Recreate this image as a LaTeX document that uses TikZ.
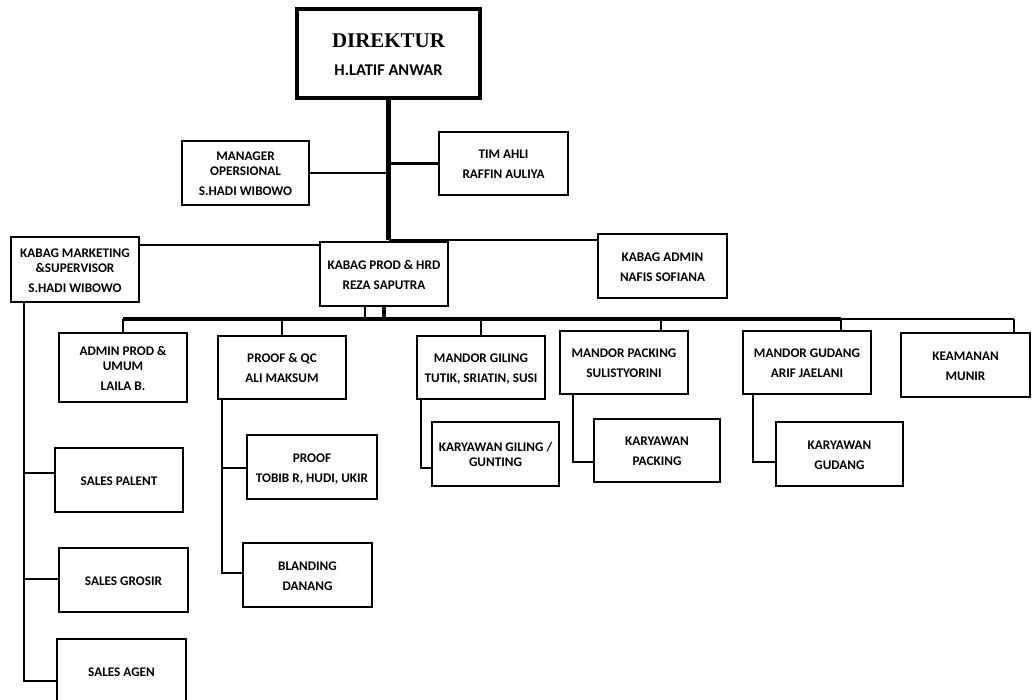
\documentclass[tikz,border=0pt]{standalone}
\usepackage{fontspec}
\setmainfont{Carlito}
\newfontfamily\dirfont{Liberation Serif}
\usetikzlibrary{calc}
\newcommand\lines[1]{\raisebox{-1.6pt}[\height][\depth]{\begin{tabular}{@{}c@{}}#1\end{tabular}}}
% \bx{name}{left}{top}{right}{bottom}{options}{text}  (pixel units)
\newcommand\bx[7]{\node[box, #6, minimum width={(#4-#2)*0.75pt}, minimum height={(#5-#3)*0.75pt}]
  (#1) at ({(#2+#4)/2},{(#3+#5)/2}) {\lines{#7}};}
\begin{document}
\begin{tikzpicture}[x=0.75pt,y=-0.75pt,
  box/.style={draw, line width=2pt, fill=white, inner sep=0pt, anchor=center,
    font=\fontsize{9.9}{11.25}\selectfont\bfseries},
  conn/.style={line width=1.7pt},
  mainline/.style={line width=3.2pt},
  busline/.style={line width=2.4pt}]
\useasboundingbox (0,0) rectangle (1034,699);

% boxes
\bx{dir}{297}{9}{480}{98}{line width=2.3pt, font=\fontsize{12.3}{21}\selectfont\bfseries}
  {{\dirfont\fontsize{15.7}{21}\selectfont DIREKTUR}\\H.LATIF ANWAR}
\bx{mgr}{182}{141}{309}{205}{}{MANAGER\\OPERSIONAL\\[3.75pt]S.HADI WIBOWO}
\bx{tim}{439}{132}{568}{195}{}{TIM AHLI\\[3.75pt]RAFFIN AULIYA}
\bx{mkt}{11}{237}{139}{302}{}{KABAG MARKETING\\\&SUPERVISOR\\[3.75pt]S.HADI WIBOWO}
\bx{prod}{320}{242}{448}{306}{}{KABAG PROD \& HRD\\[3.75pt]REZA SAPUTRA}
\bx{adm}{598}{234}{727}{298}{}{KABAG ADMIN\\[3.75pt]NAFIS SOFIANA}

\bx{adminprod}{59}{333}{187}{402}{}{ADMIN PROD \&\\UMUM\\[3.75pt]LAILA B.}
\bx{qc}{218}{336}{346}{399}{}{PROOF \& QC\\[3.75pt]ALI MAKSUM}
\bx{giling}{417}{336}{545}{399}{}{MANDOR GILING\\[3.75pt]TUTIK, SRIATIN, SUSI}
\bx{packing}{560}{331}{688}{394}{}{MANDOR PACKING\\[3.75pt]SULISTYORINI}
\bx{gudang}{743}{331}{871}{394}{}{MANDOR GUDANG\\[3.75pt]ARIF JAELANI}
\bx{keamanan}{901}{333}{1030}{397}{}{KEAMANAN\\[3.75pt]MUNIR}

\bx{proof}{247}{435}{377}{499}{}{PROOF\\[3.75pt]TOBIB R, HUDI, UKIR}
\bx{blanding}{243}{543}{372}{607}{}{BLANDING\\[3.75pt]DANANG}
\bx{kgiling}{432}{422}{559}{486}{}{KARYAWAN GILING /\\GUNTING}
\bx{kpacking}{594}{419}{720}{482}{}{KARYAWAN\\[3.75pt]PACKING}
\bx{kgudang}{776}{422}{903}{486}{}{KARYAWAN\\[3.75pt]GUDANG}

\bx{palent}{55}{448}{183}{512}{}{SALES PALENT}
\bx{grosir}{59}{548}{188}{612}{}{SALES GROSIR}
\bx{agen}{57}{639}{186}{703}{}{SALES AGEN}

% junction coordinates
\coordinate (J) at (388,240);
\coordinate (K) at (0,245);
\coordinate (pl) at (365,319);
\coordinate (d1) at (123,319);
\coordinate (d2) at (282,319);
\coordinate (d3) at (481,319);
\coordinate (d4) at (661,319);
\coordinate (d5) at (841,319);
\coordinate (d6) at (1014,319);
\coordinate (gc) at (421,468);
\coordinate (pc) at (573,462);
\coordinate (uc) at (753,462);
\coordinate (q1) at (222,468);
\coordinate (q2) at (222,573);
\coordinate (m1) at (24,473);
\coordinate (m2) at (24,579);
\coordinate (m3) at (24,681);

% connectors
\draw[mainline] (dir.south) -- (dir.south |- J);
\draw[conn] (mgr.east) -- (mgr.east -| dir.south);
\draw[conn] (tim.west) -- (tim.west -| dir.south);
\draw[conn] (dir.south |- J) -- (J -| adm.west);
\draw[conn] (mkt.east |- K) -- (prod.west |- K);
\draw[mainline] (prod.south) -- (prod.south |- d1);
\draw[conn] (pl |- prod.south) -- (pl);
\draw[busline] (d1) -- (d5);
\draw[conn] (d5) -- (d6);
\draw[conn] (d1) -- (d1 |- adminprod.north);
\draw[conn] (d2) -- (d2 |- qc.north);
\draw[conn] (d3) -- (d3 |- giling.north);
\draw[conn] (d4) -- (d4 |- packing.north);
\draw[conn] (d5) -- (d5 |- gudang.north);
\draw[conn] (d6) -- (d6 |- keamanan.north);

\draw[conn] (qc.south -| q2) -- (q2) -- (q2 -| blanding.west);
\draw[conn] (q1) -- (q1 -| proof.west);
\draw[conn] (giling.south -| gc) -- (gc) -- (gc -| kgiling.west);
\draw[conn] (packing.south -| pc) -- (pc) -- (pc -| kpacking.west);
\draw[conn] (gudang.south -| uc) -- (uc) -- (uc -| kgudang.west);
\draw[conn] (mkt.south -| m3) -- (m3) -- (m3 -| agen.west);
\draw[conn] (m1) -- (m1 -| palent.west);
\draw[conn] (m2) -- (m2 -| grosir.west);
\end{tikzpicture}
\end{document}
